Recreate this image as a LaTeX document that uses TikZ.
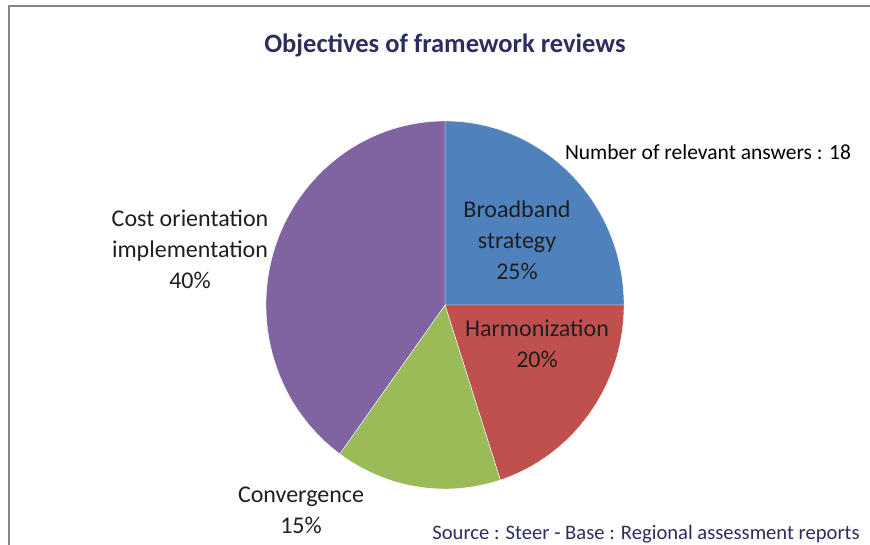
\documentclass[tikz,border=0pt]{standalone}
\usepackage{fontspec}
\setmainfont{Carlito}
\usepackage{tikz}

\definecolor{slblue}{HTML}{4F81BD}
\definecolor{slred}{HTML}{C0504D}
\definecolor{slgreen}{HTML}{9BBB59}
\definecolor{slpurple}{HTML}{8064A2}
\definecolor{titlenavy}{RGB}{45,45,95}
\definecolor{framegray}{RGB}{134,134,134}

\tikzset{
  slice/.style={draw=white, line width=0.4pt},
  lbl/.style={align=center, inner sep=0pt, text=black!88, font=\fontsize{24}{31}\selectfont},
  charttitle/.style={inner sep=0pt, text=titlenavy, font=\fontsize{26.5}{30}\selectfont\bfseries},
  note/.style={inner sep=0pt, text=black, font=\fontsize{21.5}{25}\selectfont},
  source/.style={inner sep=0pt, text=titlenavy, font=\fontsize{20.6}{24}\selectfont}
}

\begin{document}
\begin{tikzpicture}[x=1pt,y=1pt]
\useasboundingbox (0,0) rectangle (870,545);
\draw[framegray, line width=1.6pt] (9,0) -- (9,539) -- (870,539);

\coordinate (c) at (445,240);
% slices, clockwise from the top
\filldraw[slice, fill=slblue] (c) -- ++(90:179 and 184) arc[start angle=90, end angle=0, x radius=179, y radius=184] -- cycle;
\filldraw[slice, fill=slred] (c) -- ++(0:179 and 184) arc[start angle=0, end angle=-72, x radius=179, y radius=184] -- cycle;
\filldraw[slice, fill=slgreen] (c) -- ++(-72:179 and 184) arc[start angle=-72, end angle=-126, x radius=179, y radius=184] -- cycle;
\filldraw[slice, fill=slpurple] (c) -- ++(-126:179 and 184) arc[start angle=-126, end angle=-270, x radius=179, y radius=184] -- cycle;

\node[charttitle] (title) at (445,500) {Objectives of framework reviews};
\node[note] (answers) at (708,393) {Number of relevant answers : 18};

\node[lbl] (broadband) at (517,305) {Broadband\\strategy\\25\%};
\node[lbl] (harmon) at (537,201) {Harmonization\\20\%};
\node[lbl] (convergence) at (301,35) {Convergence\\15\%};
\node[lbl] (costorient) at (190,296) {Cost orientation\\implementation\\40\%};

\node[source] (source) at (646,11) {Source : Steer - Base : Regional assessment reports};
\end{tikzpicture}
\end{document}
